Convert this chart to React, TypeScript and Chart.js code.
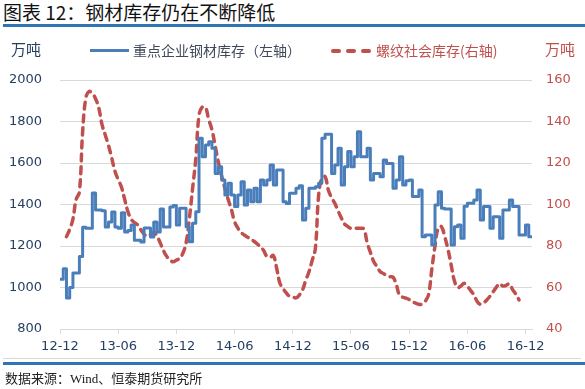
import React, { useEffect, useRef } from "react";
import { Chart, registerables } from "chart.js";
Chart.register(...registerables);

// 12-12 .. 16-12, one tick every half year (18 ten-day periods)
const tickLabels = ["12-12", "13-06", "13-12", "14-06", "14-12", "15-06", "15-12", "16-06", "16-12"];
const PERIODS_PER_TICK = 18;

// 重点企业钢材库存 (万吨, left axis), ten-day periods starting 2012-12
const steelStock = [
  1040, 1040, 1090, 950, 1000, 1070, 1070, 1150, 1290, 1285,
  1285, 1455, 1373, 1373, 1370, 1291, 1316, 1364, 1291, 1285,
  1360, 1267, 1275, 1301, 1228, 1228, 1219, 1287, 1287, 1243,
  1316, 1267, 1378, 1291, 1291, 1388, 1395, 1301, 1382, 1382,
  1293, 1221, 1310, 1365, 1719, 1630, 1687, 1703, 1671, 1550,
  1582, 1518, 1446, 1502, 1446, 1390, 1446, 1510, 1397, 1470,
  1413, 1478, 1413, 1518, 1494, 1518, 1590, 1494, 1566, 1566,
  1413, 1405, 1454, 1454, 1478, 1490, 1325, 1382, 1478, 1478,
  1486, 1502, 1719, 1738, 1738, 1550, 1590, 1671, 1494, 1582,
  1655, 1582, 1630, 1751, 1630, 1630, 1671, 1518, 1550, 1550,
  1534, 1614, 1598, 1598, 1478, 1518, 1630, 1494, 1515, 1518,
  1438, 1438, 1470, 1245, 1253, 1253, 1205, 1397, 1462, 1382,
  1378, 1378, 1205, 1293, 1301, 1237, 1392, 1406, 1406, 1422,
  1470, 1325, 1390, 1390, 1285, 1341, 1341, 1237, 1373, 1373,
  1422, 1390, 1390, 1253, 1253, 1301, 1245,
];

// 螺纹社会库存 (万吨, right axis), same periods
const rebarStock: (number | null)[] = [
  null, null, 84.5, 88, 93, 102.5, 106, 135, 151.5, 154.5,
  153.5, 151, 146.5, 138.5, 133.5, 128.5, 122.5, 116, 112, 108.4,
  102.5, 96.6, 93, 91.3, 90.2, 87.8, 85.7, 84.7, 85.5, 86.6,
  84.8, 81.5, 77.8, 75, 73.2, 72.4, 73.2, 74, 76.5, 81.5,
  93, 107.5, 122, 143, 147, 146.8, 141, 136, 128.2, 120.3,
  113.8, 107.8, 102.5, 97.7, 91.7, 88.7, 86.5, 85.3, 84.3, 83.2,
  82.3, 81, 79.7, 77.8, 75, 74.6, 75.4, 69.4, 62.2, 59.5,
  57.4, 55.8, 55.5, 55, 56.3, 58.7, 63.4, 67.5, 73, 79,
  104.5, 112.7, 113.4, 107, 103.3, 100.6, 97, 93.6, 90.6, 89.4,
  88.5, 88.5, 88.5, 88.5, 88.2, 81.7, 77, 72.7, 70.2, 67.7,
  66.8, 65.8, 65.2, 65, 61.5, 56.3, 55.3, 54.9, 54.2, 53.1,
  52.5, 51.9, 52, 53.4, 56.5, 68.7, 80, 88.9, 89.3, 84.5,
  78.5, 70.8, 63.2, 60, 60.7, 62, 60.6, 58.6, 56.5, 53.4,
  51.9, 52.6, 54, 55.8, 58, 60.2, 61.9, 60.7, 61, 61.8,
  59, 56.8, 54, null, null, null, null,
];

const NAVY = "#243f60";
const RED = "#c0504d";
const BLUE = "#4a7ebb";
const GRID = "#d9d9d9";
const TICK_FONT = { family: "'DejaVu Sans', Verdana, sans-serif", size: 13 };
const CJK = "'Noto Sans CJK SC', 'Noto Sans', sans-serif";

export default function App() {
  const ref = useRef<HTMLCanvasElement>(null);

  useEffect(() => {
    const labels = steelStock.map((_, i) =>
      i % PERIODS_PER_TICK === 0 ? tickLabels[i / PERIODS_PER_TICK] ?? "" : ""
    );
    const plain = (v: any) => String(v);
    const chart = new Chart(ref.current!, {
      type: "line",
      data: {
        labels,
        datasets: [
          {
            label: "重点企业钢材库存（左轴）",
            data: steelStock,
            yAxisID: "y",
            borderColor: BLUE,
            borderWidth: 3,
            stepped: "after",
            borderJoinStyle: "round",
            pointRadius: 0,
            fill: false,
          },
          {
            label: "螺纹社会库存(右轴)",
            data: rebarStock,
            yAxisID: "y1",
            borderColor: RED,
            borderWidth: 3.5,
            borderDash: [7, 6],
            borderCapStyle: "round",
            tension: 0.4,
            pointRadius: 0,
            fill: false,
          },
        ],
      },
      options: {
        animation: false,
        responsive: false,
        maintainAspectRatio: false,
        layout: { padding: { top: 80, left: 0, right: 0, bottom: 0 } },
        plugins: { legend: { display: false }, tooltip: { enabled: false } },
        scales: {
          x: {
            type: "category",
            offset: false,
            afterBuildTicks: (s: any) => {
              s.ticks = s.ticks.filter((t: any) => t.value % PERIODS_PER_TICK === 0);
            },
            afterFit: (s: any) => {
              s.height = 60;
            },
            grid: { display: true, drawOnChartArea: false, drawTicks: true, tickLength: 5, color: GRID },
            border: { display: true, color: GRID },
            ticks: { autoSkip: false, maxRotation: 0, minRotation: 0, padding: 5, color: NAVY, font: TICK_FONT },
          },
          y: {
            position: "left",
            min: 800,
            max: 2000,
            ticks: { stepSize: 200, padding: 18, color: NAVY, font: TICK_FONT, callback: plain },
            grid: { color: GRID, drawTicks: false },
            border: { display: false },
            afterFit: (s: any) => {
              s.width = 60;
            },
          },
          y1: {
            position: "right",
            min: 40,
            max: 160,
            ticks: { stepSize: 20, padding: 14, color: RED, font: TICK_FONT, callback: plain },
            grid: { drawOnChartArea: false, drawTicks: false },
            border: { display: false },
            afterFit: (s: any) => {
              s.width = 53;
            },
          },
        },
      },
    });
    return () => chart.destroy();
  }, []);

  const abs = (o: React.CSSProperties): React.CSSProperties => ({ position: "absolute", whiteSpace: "nowrap", ...o });

  return (
    <div style={{ position: "fixed", left: 0, top: 0, width: 585, height: 389, background: "#fff", overflow: "hidden" }}>
      <div style={abs({ left: 3, top: 1, fontSize: 19, lineHeight: "22px", fontFamily: CJK, color: "#111" })}>
        图表 12：钢材库存仍在不断降低
      </div>
      <div style={abs({ left: 3, top: 24, width: 582, height: 3, background: "#2f75b5" })} />

      <canvas ref={ref} width={585} height={389} style={{ position: "absolute", left: 0, top: 0 }} />

      <div style={abs({ left: 11, top: 39, fontSize: 15, lineHeight: "20px", fontFamily: CJK, color: NAVY })}>万吨</div>
      <div style={abs({ left: 545, top: 39, fontSize: 15, lineHeight: "20px", fontFamily: CJK, color: RED })}>万吨</div>

      <div style={abs({ left: 90, top: 49, width: 39, height: 3, background: BLUE })} />
      <div style={abs({ left: 133, top: 40, fontSize: 14, lineHeight: "20px", fontFamily: CJK, color: "#404a5a" })}>
        重点企业钢材库存（左轴）
      </div>
      <div style={abs({ left: 331, top: 49, width: 10, height: 3.5, background: RED, borderRadius: 2 })} />
      <div style={abs({ left: 346, top: 49, width: 10, height: 3.5, background: RED, borderRadius: 2 })} />
      <div style={abs({ left: 361, top: 49, width: 10, height: 3.5, background: RED, borderRadius: 2 })} />
      <div style={abs({ left: 376, top: 40, fontSize: 14, lineHeight: "20px", fontFamily: CJK, color: RED })}>
        螺纹社会库存(右轴)
      </div>

      <div style={abs({ left: 3, top: 358, width: 578, height: 1, background: GRID })} />
      <div style={abs({ left: 3, top: 362, width: 582, height: 3, background: "#2f75b5" })} />
      <div style={abs({ left: 5, top: 370, fontSize: 13, lineHeight: "18px", fontFamily: "'Liberation Serif', 'Noto Sans CJK SC', serif", color: "#222" })}>
        数据来源：Wind、恒泰期货研究所
      </div>
    </div>
  );
}
